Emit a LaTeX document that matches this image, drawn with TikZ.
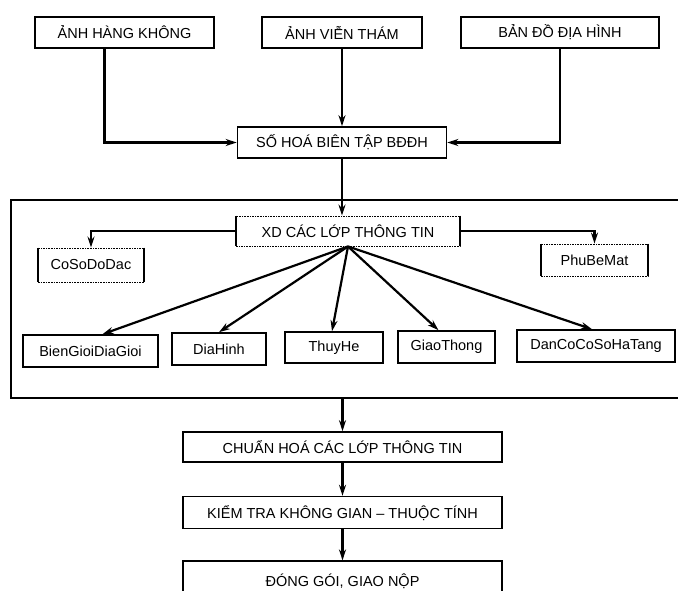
\documentclass[tikz,border=0pt]{standalone}
\usepackage{fontspec}
\setmainfont{Liberation Sans}
\usetikzlibrary{arrows.meta,positioning}

\begin{document}
\begin{tikzpicture}[x=1pt,y=-1pt,>={Stealth[length=11pt,width=7pt]},
        noi/.style={->,line width=2.2pt},
        hop/.style={draw,line width=1.6pt,inner sep=0pt,minimum height=31pt,font=\fontsize{14.5}{17}\selectfont},
        hopcham/.style={hop,densely dotted,line width=0.9pt,
            append after command={(\tikzlastnode.north west) edge[solid,line width=2pt] (\tikzlastnode.south west)
                (\tikzlastnode.north east) edge[solid,line width=2pt] (\tikzlastnode.south east)}}]
        %   \tikzset{hop/.style={draw}}
        \useasboundingbox (0,0) rectangle (678,590);

        \node[hop,minimum width=179pt]                     (hk) at (124.5,32.5) {ẢNH HÀNG KHÔNG};
        \node[hop,minimum width=160pt]                     (vt) at (342,32.5)   {ẢNH VIỄN THÁM};
        \node[hop,minimum width=198pt]                     (bd) at (560,32.5)   {BẢN ĐỒ ĐỊA HÌNH};
        \node[hop,minimum width=209pt]                     (so) at (342,142.5)  {SỐ HOÁ BIÊN TẬP BĐĐH};

        \node[hop,minimum width=669pt,minimum height=198pt] (khung) at (345.5,299) {};
        \node[hopcham,minimum width=224pt,minimum height=30pt] (xd) at (348,231) {XD CÁC LỚP THÔNG TIN};
        \node[hopcham,minimum width=106pt,minimum height=34pt] (cs) at (91,265)  {CoSoDoDac};
        \node[hopcham,minimum width=107pt,minimum height=32pt] (pb) at (594.5,260) {PhuBeMat};

        \node[hop,minimum width=135pt,minimum height=32pt] (bg) at (90.5,351)  {BienGioiDiaGioi};
        \node[hop,minimum width=94pt,minimum height=32pt]  (dh) at (219,349)   {DiaHinh};
        \node[hop,minimum width=98pt]                      (th) at (334,347.5) {ThuyHe};
        \node[hop,minimum width=97pt,minimum height=32pt]  (gt) at (446.5,347) {GiaoThong};
        \node[hop,minimum width=158pt,minimum height=32pt] (dc) at (596,346)   {DanCoCoSoHaTang};

        \node[hop,minimum width=319pt,minimum height=30pt] (ch) at (342.5,447) {CHUẨN HOÁ CÁC LỚP THÔNG TIN};
        \node[hop,minimum width=319pt,minimum height=32pt] (kt) [below=33pt of ch] {KIỂM TRA KHÔNG GIAN -- THUỘC TÍNH};
        \node[hop,minimum width=319pt,minimum height=40pt] (dg) [below=31pt of kt] {ĐÓNG GÓI, GIAO NỘP};

        \draw[noi] ([xshift=-20pt]hk.south) |- (so.west);
        \draw[noi] (vt) -- (so);
        \draw[noi] (bd.south) |- (so.east);
        \draw[noi] (so.south) -- (so.south |- xd.north);
        \draw[noi] (xd.west) -| (cs.north);
        \draw[noi] (xd.east) -| (pb.north);

        \path[noi] (xd.south) edge ([xshift=12pt]bg.north)
        edge (dh.north)
        edge ([xshift=-2pt]th.north)
        edge ([xshift=-8pt]gt.north)
        edge ([xshift=-4pt]dc.north);

        \draw[noi] (khung.south -| ch.north) -- (ch.north);
        \draw[noi] (ch) -- (kt);
        \draw[noi] (kt) -- (dg);
    \end{tikzpicture}
\end{document}
